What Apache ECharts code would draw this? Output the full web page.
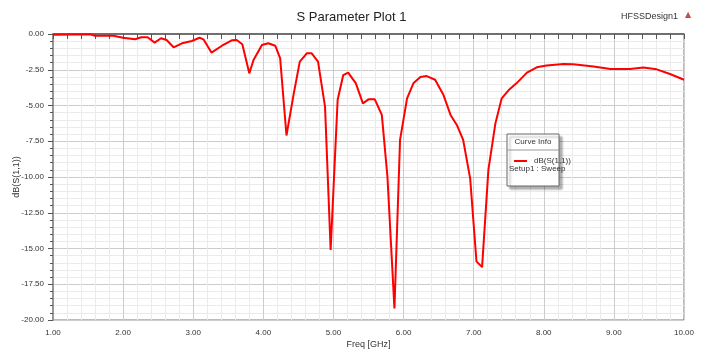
<!DOCTYPE html>
<html>
<head>
<meta charset="utf-8">
<script src="https://cdn.jsdelivr.net/npm/echarts@6/dist/echarts.min.js"></script>
<style>
  html, body { margin: 0; padding: 0; background: #fff; }
  #chart { width: 703px; height: 356px; }
</style>
</head>
<body>
<div id="chart"></div>
<script>
const freqGHz = [
  1.00, 1.53, 1.60, 1.86, 2.00, 2.17, 2.26, 2.35, 2.45, 2.54, 2.62, 2.72, 2.84, 2.98,
  3.09, 3.15, 3.26, 3.41, 3.55, 3.62, 3.70, 3.80, 3.86, 3.98, 4.07, 4.17, 4.24, 4.33,
  4.43, 4.52, 4.62, 4.69, 4.78, 4.88, 4.96, 5.06, 5.14, 5.21, 5.32, 5.42, 5.50, 5.59,
  5.69, 5.77, 5.87, 5.95, 6.05, 6.14, 6.24, 6.33, 6.45, 6.57, 6.67, 6.76, 6.85, 6.95,
  7.04, 7.12, 7.21, 7.31, 7.40, 7.50, 7.61, 7.76, 7.90, 8.04, 8.28, 8.42, 8.71, 8.95,
  9.23, 9.42, 9.61, 9.80, 10.00
];
const dbS11 = [
  -0.05, -0.02, -0.12, -0.12, -0.26, -0.37, -0.23, -0.23, -0.60, -0.30, -0.42, -0.93, -0.65, -0.49,
  -0.26, -0.40, -1.30, -0.82, -0.44, -0.42, -0.72, -2.75, -1.82, -0.77, -0.65, -0.82, -1.70, -7.10,
  -4.27, -1.93, -1.35, -1.35, -1.93, -5.08, -15.1, -4.60, -2.87, -2.70, -3.45, -4.85, -4.57, -4.57,
  -5.66, -9.98, -19.2, -7.40, -4.50, -3.45, -3.00, -2.94, -3.20, -4.27, -5.66, -6.36, -7.40, -10.1,
  -15.9, -16.3, -9.50, -6.25, -4.50, -3.92, -3.45, -2.70, -2.33, -2.20, -2.10, -2.12, -2.28, -2.45,
  -2.45, -2.35, -2.47, -2.80, -3.20
];
const seriesName = 'dB(S(1,1))';
const sweepName = 'Setup1 : Sweep';

const FONT = '"Liberation Sans Narrow", "Liberation Sans", Arial, sans-serif';

const chart = echarts.init(document.getElementById('chart'));
chart.setOption({
  backgroundColor: '#fff',
  animation: false,
  title: {
    text: 'S Parameter Plot 1',
    left: 'center',
    top: 6,
    textStyle: { fontFamily: FONT, fontSize: 13, fontWeight: 'normal', color: '#222' }
  },
  grid: {
    left: 53, right: 19, top: 34, bottom: 36,
    outerBoundsMode: 'none',
    containLabel: false,
    show: true, borderColor: '#777', borderWidth: 1
  },
  legend: {
    left: 509, top: 152, z: 10,
    icon: 'rect', itemWidth: 13, itemHeight: 2, itemGap: 4,
    textStyle: { fontFamily: FONT, fontSize: 8, color: '#333', padding: [0, 0, 0, 2] },
    data: [seriesName]
  },
  xAxis: {
    type: 'value',
    min: 1, max: 10, interval: 1,
    name: 'Freq [GHz]',
    nameLocation: 'middle',
    nameGap: 20,
    nameMoveOverlap: false,
    nameTextStyle: { fontFamily: FONT, fontSize: 9, color: '#333' },
    axisLine: { lineStyle: { color: '#555', width: 1.5 } },
    axisTick: { show: true, length: 5, lineStyle: { color: '#555' } },
    minorTick: { show: true, splitNumber: 5, length: 5, lineStyle: { color: '#555' } },
    axisLabel: { fontFamily: FONT, fontSize: 8, color: '#333', margin: 9, formatter: v => v.toFixed(2) },
    splitLine: { show: true, lineStyle: { color: '#cccccc' } },
    minorSplitLine: { show: true, lineStyle: { color: '#ebebeb' } }
  },
  yAxis: {
    type: 'value',
    min: -20, max: 0, interval: 2.5,
    name: 'dB(S(1,1))',
    nameLocation: 'middle',
    nameGap: 32,
    nameMoveOverlap: false,
    nameRotate: 90,
    nameTextStyle: { fontFamily: FONT, fontSize: 9, color: '#333' },
    axisLine: { show: true, lineStyle: { color: '#888', width: 1.5 } },
    axisTick: { show: true, length: 5, lineStyle: { color: '#555' } },
    minorTick: { show: true, splitNumber: 5, length: 3, lineStyle: { color: '#555' } },
    axisLabel: { fontFamily: FONT, fontSize: 8, color: '#333', margin: 9, formatter: v => v.toFixed(2) },
    splitLine: { show: true, lineStyle: { color: '#cccccc' } },
    minorSplitLine: { show: true, lineStyle: { color: '#ebebeb' } }
  },
  graphic: [
    {
      type: 'text', right: 25, top: 12,
      style: { text: 'HFSSDesign1', font: '9px ' + FONT, fill: '#333' }
    },
    {
      type: 'text', left: 685, top: 11,
      style: { text: '▲', font: '8px "DejaVu Sans"', fill: '#c0504d' }
    },
    {
      type: 'rect', z: 5,
      shape: { x: 507, y: 134, width: 52, height: 52 },
      style: { fill: '#fff', stroke: '#666', lineWidth: 1, shadowColor: 'rgba(0,0,0,0.3)', shadowOffsetX: 3, shadowOffsetY: 3, shadowBlur: 2 }
    },
    {
      type: 'line', z: 6,
      shape: { x1: 507, y1: 150, x2: 559, y2: 150 },
      style: { stroke: '#999', lineWidth: 1 }
    },
    {
      type: 'text', z: 6, x: 533, y: 142,
      style: { text: 'Curve Info', font: '8px ' + FONT, fill: '#333', align: 'center', verticalAlign: 'middle' }
    },
    {
      type: 'text', z: 6, x: 509, y: 169,
      style: { text: sweepName, font: '8px ' + FONT, fill: '#333', verticalAlign: 'middle' }
    }
  ],
  series: [{
    name: seriesName,
    type: 'line',
    data: freqGHz.map((f, i) => [f, dbS11[i]]),
    symbol: 'none',
    smooth: false,
    color: '#ff0000',
    lineStyle: { width: 2, color: '#ff0000' }
  }]
});
</script>
</body>
</html>
